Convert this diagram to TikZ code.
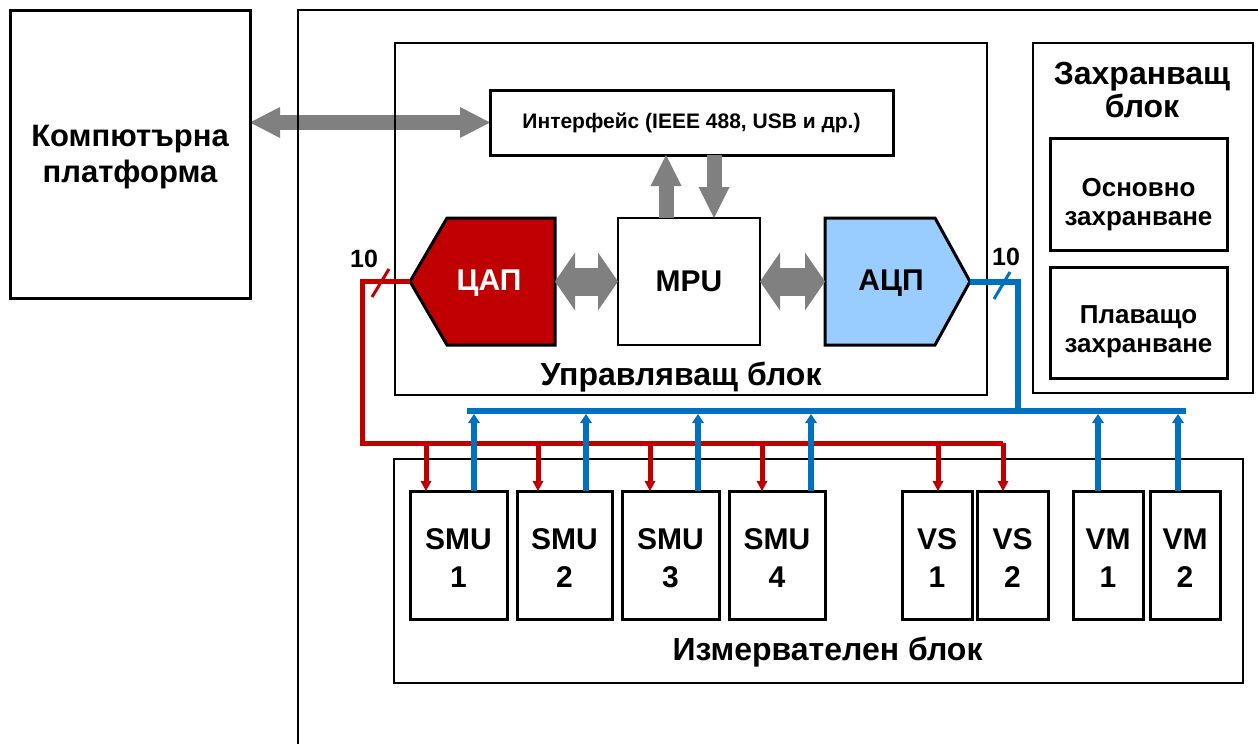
\documentclass[tikz,border=0pt]{standalone}
\usepackage{fontspec}
\setmainfont{Liberation Sans}
\usetikzlibrary{arrows.meta,calc}
\pgfdeclarelayer{bg}
\pgfsetlayers{bg,main}
\definecolor{dred}{HTML}{C00000}
\definecolor{bblue}{HTML}{0070C0}
\definecolor{lblue}{HTML}{99CCFF}
\definecolor{garr}{HTML}{808080}
\begin{document}
\begin{tikzpicture}[x=1pt,y=-1pt,
  box/.style={draw, line width=3pt, inner sep=0pt, outer sep=0pt, align=center},
  block/.style={draw, line width=2pt, inner sep=0pt, outer sep=0pt},
  big/.style={font=\bfseries\fontsize{30}{38}\selectfont, align=center},
  med/.style={font=\bfseries\fontsize{26}{29}\selectfont, align=center},
  num/.style={font=\bfseries\fontsize{25}{28}\selectfont},
  blocklbl/.style={font=\bfseries\fontsize{32}{36}\selectfont, anchor=base},
  gtop/.style={draw=garr, line width=15pt, {Triangle[length=30pt,width=31pt,line width'=0pt]}-{Triangle[length=30pt,width=31pt,line width'=0pt]}},
  gdbl/.style={draw=garr, line width=28pt, {Triangle[length=20pt,width=58pt,line width'=0pt]}-{Triangle[length=20pt,width=58pt,line width'=0pt]}},
  gsingle/.style={draw=garr, line width=15pt, -{Triangle[length=31pt,width=31pt,line width'=0pt]}},
  redline/.style={draw=dred, line width=5pt, line join=miter},
  blueline/.style={draw=bblue, line width=6pt, line join=miter},
  redarr/.style={draw=dred, line width=5pt, -{Triangle[length=10pt,width=11pt,line width'=0pt]}},
  bluearr/.style={draw=bblue, line width=6pt, -{Triangle[length=9pt,width=12pt,line width'=0pt]}},
  unit/.style={box, minimum height=128pt},
  unitlbl/.style={big}
]
\useasboundingbox (0,0) rectangle (1258,744);

% computer platform
\node[box, minimum width=240pt, minimum height=288pt] (plat) at (130,154) {};
\node[font=\bfseries\fontsize{31}{36}\selectfont, align=center] (platlbl) at (130,157.5) {Компютърна\\платформа};

% interface
\node[box, minimum width=403pt, minimum height=65pt, fill=white, font=\bfseries\fontsize{21}{24}\selectfont] (intf) at (691.5,122.5) {Интерфейс (IEEE 488, USB и др.)};

\begin{pgfonlayer}{bg}
\draw[gtop] (plat.east |- intf.west) -- (intf.west);
\end{pgfonlayer}

% outer frame
\coordinate (frameBL) at (298,748);
\coordinate (frameTL) at (298,10);
\coordinate (frameTR) at (1262,10);
\draw[line width=2pt] (frameBL) -- (frameTL) -- (frameTR);

% control block
\node[block, minimum width=592pt, minimum height=352pt] (ctrl) at (691,219) {};
\node[blocklbl] (ctrllbl) at (681,385) {Управляващ блок};

% MPU
\node[box, line width=2.5pt, minimum width=142pt, minimum height=127pt, font=\bfseries\fontsize{30}{32}\selectfont] (mpu) at (689,281.5) {MPU};

% DAC
\node[inner sep=0pt, outer sep=0pt, minimum width=108pt, minimum height=127pt] (dac) at (501,281.5) {};
\coordinate (dactip) at (410,281.5);
\draw[line width=3pt, fill=dred, line join=miter] (dac.north west) -- (dac.north east) -- (dac.south east) -- (dac.south west) -- (dactip) -- cycle;
\node[big, text=white] (daclbl) at (489,283) {ЦАП};

% ADC
\node[inner sep=0pt, outer sep=0pt, minimum width=110pt, minimum height=127pt] (adc) at (880,281.5) {};
\coordinate (adctip) at (970,281.5);
\draw[line width=3pt, fill=lblue, line join=miter] (adc.north west) -- (adc.north east) -- (adctip) -- (adc.south east) -- (adc.south west) -- cycle;
\node[big] (adclbl) at (891,283) {АЦП};

% gray arrows
\draw[gdbl] (dac.east) -- (mpu.west);
\draw[gdbl] (mpu.east) -- (adc.west);
\coordinate (upx) at (666,0);
\coordinate (dnx) at (714,0);
\draw[gsingle] (mpu.north -| upx) -- (intf.south -| upx);
\draw[gsingle] (intf.south -| dnx) -- (mpu.north -| dnx);

% storage block
\node[block, minimum width=220pt, minimum height=350pt] (stor) at (1143,218) {};
\node[font=\bfseries\fontsize{32}{33}\selectfont, align=center] (storlbl) at (1142,90) {Захранващ\\блок};
\node[box, minimum width=177pt, minimum height=112pt] (main) at (1138.5,194) {};
\node[med] (mainlbl) at (1138.5,204.5) {Основно\\захранване};
\node[box, minimum width=177pt, minimum height=111pt] (float) at (1138.5,322.5) {};
\node[med] (floatlbl) at (1138.5,332) {Плаващо\\захранване};

% measurement block
\node[block, minimum width=849pt, minimum height=224pt] (meas) at (818.5,571) {};
\node[blocklbl] (measlbl) at (827.5,660) {Измервателен блок};

\node[unit, minimum width=97pt] (smu1) at (458.5,555) {};
\node[unit, minimum width=95pt] (smu2) at (564.5,555) {};
\node[unit, minimum width=97pt] (smu3) at (670.5,555) {};
\node[unit, minimum width=96pt] (smu4) at (777,555) {};
\node[unit, minimum width=70pt] (vs1) at (937,555) {};
\node[unit, minimum width=71pt] (vs2) at (1012.5,555) {};
\node[unit, minimum width=70pt] (vm1) at (1108,555) {};
\node[unit, minimum width=70pt] (vm2) at (1185,555) {};
\node[unitlbl] (smu1t) at ($(smu1.center)+(0,3.5)$) {SMU\\1};
\node[unitlbl] (smu2t) at ($(smu2.center)+(0,3.5)$) {SMU\\2};
\node[unitlbl] (smu3t) at ($(smu3.center)+(0,3.5)$) {SMU\\3};
\node[unitlbl] (smu4t) at ($(smu4.center)+(0,3.5)$) {SMU\\4};
\node[unitlbl] (vs1t) at ($(vs1.center)+(0,3.5)$) {VS\\1};
\node[unitlbl] (vs2t) at ($(vs2.center)+(0,3.5)$) {VS\\2};
\node[unitlbl] (vm1t) at ($(vm1.center)+(0,3.5)$) {VM\\1};
\node[unitlbl] (vm2t) at ($(vm2.center)+(0,3.5)$) {VM\\2};

% red bus
\coordinate (rL) at (362,443);
\coordinate (rR) at (1003,443);
\draw[redline] (dactip) -| (rL) -- (rR);
\coordinate (r1) at (426,443);
\coordinate (r2) at (538,443);
\coordinate (r3) at (650,443);
\coordinate (r4) at (762,443);
\coordinate (r5) at (938,443);
\draw[redarr] (r1) -- (r1 |- smu1.north);
\draw[redarr] (r2) -- (r2 |- smu2.north);
\draw[redarr] (r3) -- (r3 |- smu3.north);
\draw[redarr] (r4) -- (r4 |- smu4.north);
\draw[redarr] (r5) -- (r5 |- vs1.north);
\draw[redarr] (rR) -- (rR |- vs2.north);
\draw[draw=dred, line width=3pt] (372,297) -- (389,269);
\node[num] (red10) at (364,259) {10};

% blue bus
\coordinate (bR) at (1018,411);
\coordinate (bL) at (467,411);
\coordinate (bE) at (1186,411);
\draw[blueline] (adctip) -| (bR);
\draw[blueline] (bL) -- (bE);
\coordinate (b1) at (474,414);
\coordinate (b2) at (586,414);
\coordinate (b3) at (698,414);
\coordinate (b4) at (811,414);
\coordinate (b5) at (1098,414);
\coordinate (b6) at (1178,414);
\draw[bluearr] (smu1.north -| b1) -- (b1);
\draw[bluearr] (smu2.north -| b2) -- (b2);
\draw[bluearr] (smu3.north -| b3) -- (b3);
\draw[bluearr] (smu4.north -| b4) -- (b4);
\draw[bluearr] (vm1.north -| b5) -- (b5);
\draw[bluearr] (vm2.north -| b6) -- (b6);
\draw[draw=bblue, line width=3pt] (994,299) -- (1010,272);
\node[num] (blue10) at (1006,257) {10};
\end{tikzpicture}
\end{document}
